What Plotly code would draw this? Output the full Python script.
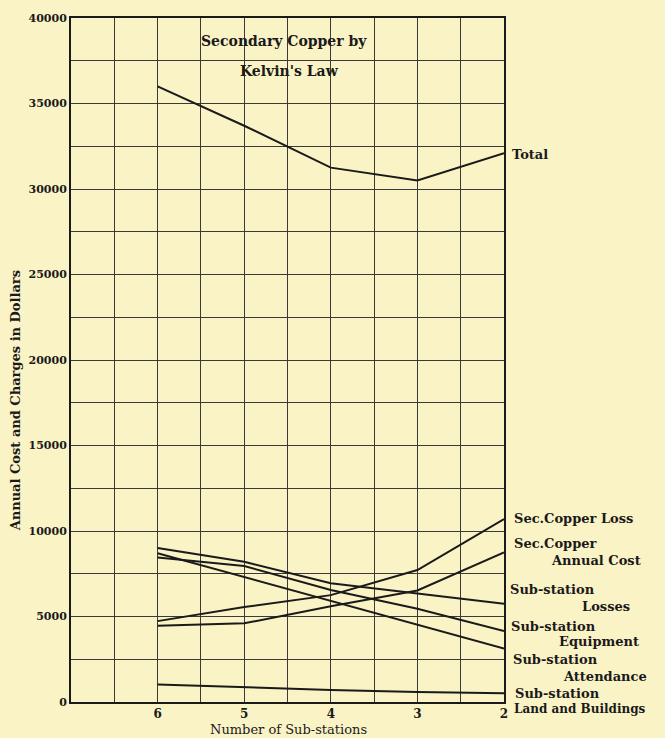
import plotly.graph_objects as go

substations = [6, 5, 4, 3, 2]
total = [36000, 33700, 31250, 30500, 32100]
sec_copper_loss = [4730, 5550, 6250, 7720, 10700]
sec_copper_annual = [4460, 4600, 5600, 6520, 8750]
ss_losses = [9000, 8200, 6950, 6350, 5750]
ss_equipment = [8450, 7950, 6550, 5450, 4150]
ss_attendance = [8700, 7300, 5900, 4480, 3120]
ss_land = [1030, 860, 700, 580, 505]

x_tickvals = [2, 2.5, 3, 3.5, 4, 4.5, 5, 5.5, 6, 6.5, 7]
x_ticktext = ["2", "", "3", "", "4", "", "5", "", "6", "", ""]
y_tickvals = [i * 2500 for i in range(17)]
y_ticktext = [str(v) if v % 5000 == 0 else "" for v in y_tickvals]

BG = "#faf3c6"
INK = "#1a1a1a"
FONT = "DejaVu Serif"

W, H = 665, 738
L, R, T, B = 71, 504, 15, 702

fig = go.Figure()
for ys in [total, sec_copper_loss, sec_copper_annual, ss_losses,
           ss_equipment, ss_attendance, ss_land]:
    fig.add_trace(go.Scatter(x=substations, y=ys, mode="lines",
                             line=dict(color=INK, width=2), showlegend=False,
                             hoverinfo="x+y"))


def px(xp, yp):
    return (xp - L) / (R - L), (B - yp) / (B - T)


annots = []


def label(text, xp, yp, size=13, anchor="left", bold=True):
    xx, yy = px(xp, yp)
    annots.append(dict(text=("<b>%s</b>" % text) if bold else text,
                       x=xx, y=yy, xref="paper", yref="paper",
                       xanchor=anchor, yanchor="middle", showarrow=False,
                       font=dict(family=FONT, size=size, color=INK)))


label("Secondary Copper by", 284, 38, 14, "center")
label("Kelvin's Law", 289, 68, 14, "center")
label("Total", 510, 152, 13)
label("Sec.Copper Loss", 512, 518, 13)
label("Sec.Copper", 512, 543, 13)
label("Annual Cost", 549, 560, 13)
label("Sub-station", 508, 589, 13)
label("Losses", 580, 606, 13)
label("Sub-station", 509, 626, 13)
label("Equipment", 557, 641, 13)
label("Sub-station", 511, 659, 13)
label("Attendance", 561, 676, 13)
label("Sub-station", 513, 693, 13)
label("Land and Buildings", 512, 709, 12)
label("Number of Sub-stations", 288, 730, 13, "center", bold=False)

xx, yy = px(15, 400)
annots.append(dict(text="<b>Annual Cost and Charges in Dollars</b>", x=xx, y=yy,
                   xref="paper", yref="paper", textangle=-90,
                   xanchor="center", yanchor="middle", showarrow=False,
                   font=dict(family=FONT, size=13, color=INK)))

fig.update_layout(
    width=W, height=H,
    margin=dict(l=L, r=W - R, t=T, b=H - B, pad=0),
    paper_bgcolor=BG, plot_bgcolor=BG,
    annotations=annots,
    xaxis=dict(range=[7, 2], tickmode="array", tickvals=x_tickvals,
               ticktext=["<b>%s</b>" % t if t else "" for t in x_ticktext],
               showgrid=True, gridcolor="#3a3a3a",
               gridwidth=1, zeroline=False, showline=True, linecolor=INK,
               linewidth=2, mirror=True, ticks="",
               tickfont=dict(family=FONT, size=12, color=INK)),
    yaxis=dict(range=[0, 40000], tickmode="array", tickvals=y_tickvals,
               ticktext=["<b>%s</b>" % t if t else "" for t in y_ticktext],
               showgrid=True, gridcolor="#3a3a3a",
               gridwidth=1, zeroline=False, showline=True, linecolor=INK,
               linewidth=2, mirror=True, ticks="",
               tickfont=dict(family=FONT, size=11, color=INK)),
)

fig.write_html("out.html", config={"displayModeBar": False},
               post_script="document.body.style.margin='0';"
                           "document.body.style.background='%s';" % BG)
